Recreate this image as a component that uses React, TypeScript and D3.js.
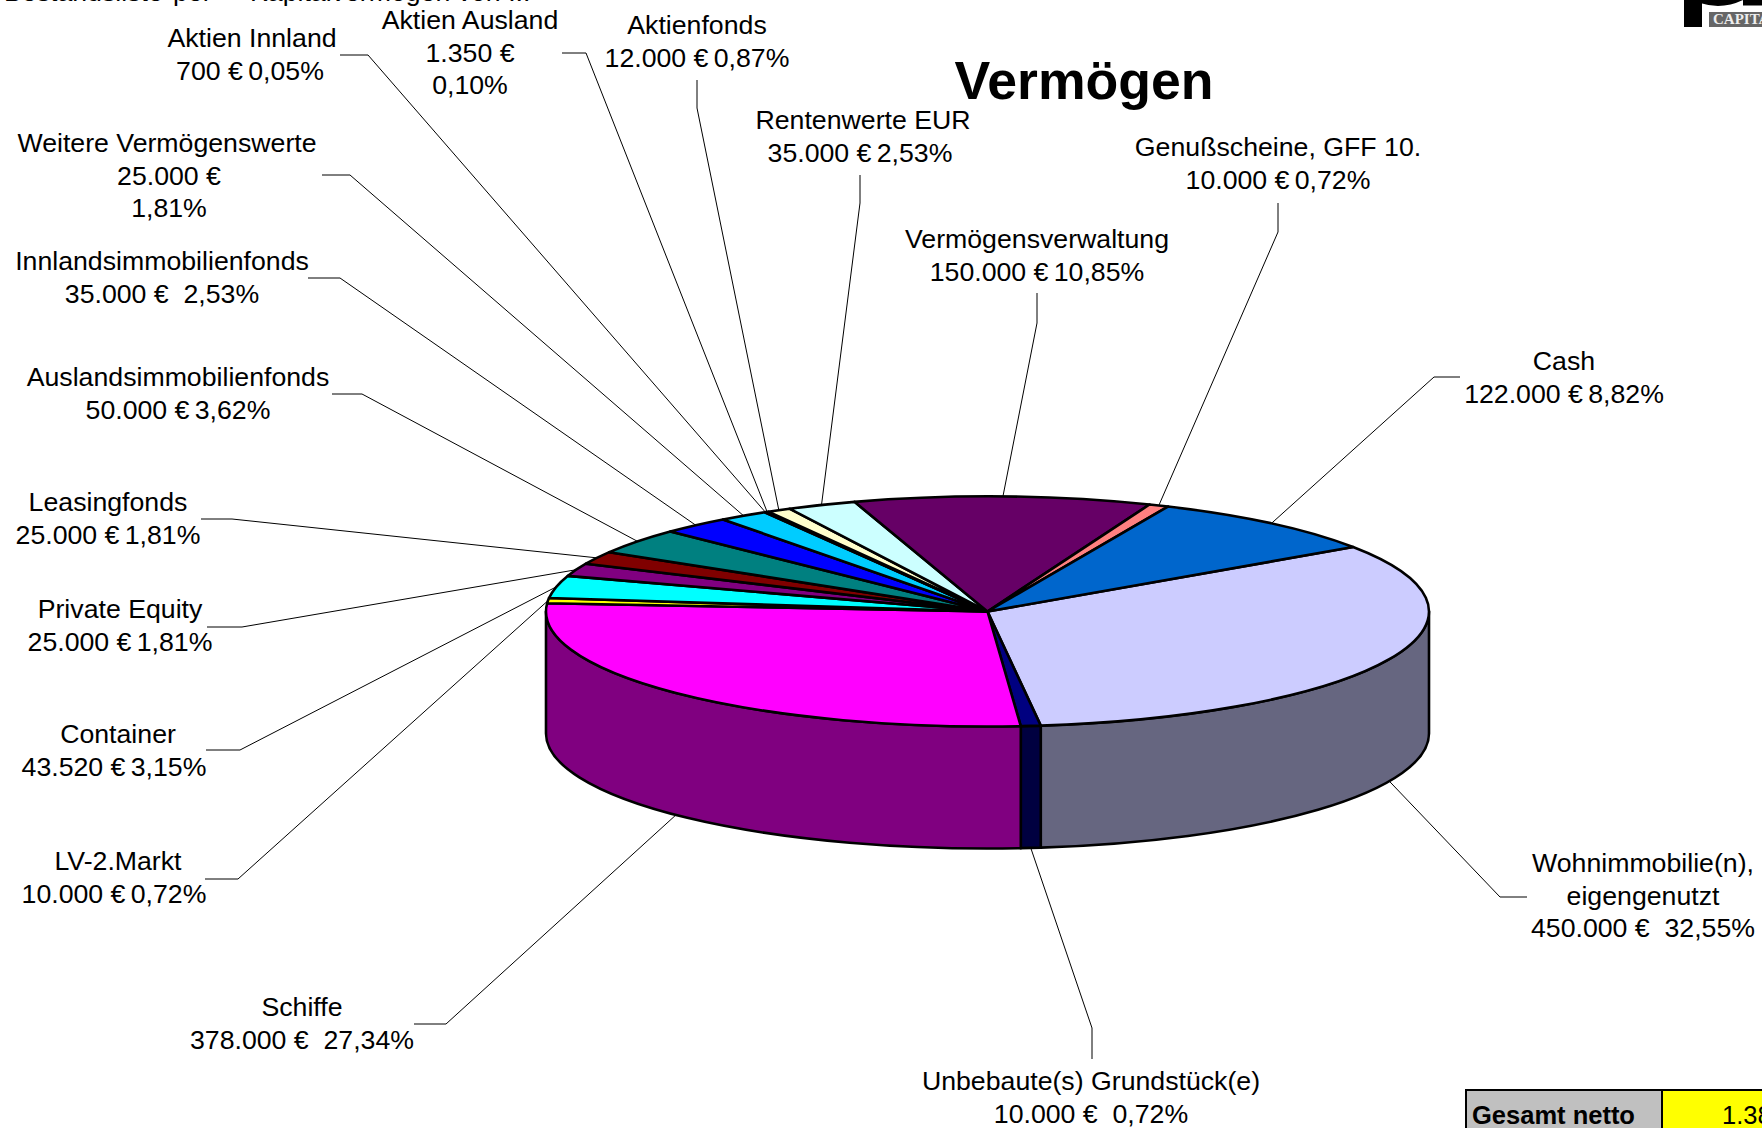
import * as d3 from 'd3';

// Slice values in pie order, clockwise from the Wohnimmobilie edge
const categories = [
  'Wohnimmobilie(n), eigengenutzt', 'Unbebaute(s) Grundstück(e)', 'Schiffe', 'LV-2.Markt', 'Container',
  'Private Equity', 'Leasingfonds', 'Auslandsimmobilienfonds', 'Innlandsimmobilienfonds', 'Weitere Vermögenswerte',
  'Aktien Innland', 'Aktien Ausland', 'Aktienfonds', 'Rentenwerte EUR', 'Vermögensverwaltung',
  'Genußscheine, GFF 10.', 'Cash',
];
const values = [450000, 10000, 378000, 10000, 43520, 25000, 25000, 50000, 35000, 25000, 700, 1350, 12000, 35000, 150000, 10000, 122000];
const colors = [
  '#ccccff', '#000080', '#ff00ff', '#ffff00', '#00ffff', '#800080', '#800000', '#008080', '#0000ff', '#00ccff',
  '#9999ff', '#993366', '#ffffcc', '#ccffff', '#660066', '#ff8080', '#0066cc',
];
const labelLines = [
  ['Wohnimmobilie(n),', 'eigengenutzt', '450.000 €  32,55%'],
  ['Unbebaute(s) Grundstück(e)', '10.000 €  0,72%'],
  ['Schiffe', '378.000 €  27,34%'],
  ['LV-2.Markt', '10.000 €\u20090,72%'],
  ['Container', '43.520 €\u20093,15%'],
  ['Private Equity', '25.000 €\u20091,81%'],
  ['Leasingfonds', '25.000 €\u20091,81%'],
  ['Auslandsimmobilienfonds', '50.000 €\u20093,62%'],
  ['Innlandsimmobilienfonds', '35.000 €  2,53%'],
  ['Weitere Vermögenswerte', '25.000 €', '1,81%'],
  ['Aktien Innland', '700 €\u20090,05%'],
  ['Aktien Ausland', '1.350 €', '0,10%'],
  ['Aktienfonds', '12.000 €\u20090,87%'],
  ['Rentenwerte EUR', '35.000 €\u20092,53%'],
  ['Vermögensverwaltung', '150.000 €\u200910,85%'],
  ['Genußscheine, GFF 10.', '10.000 €\u20090,72%'],
  ['Cash', '122.000 €\u20098,82%'],
];

// Label placement: centre x, first baseline, leader start, leader elbow, nudge of the value lines
const labelLayout: [number, number, [number, number], [number, number], number][] = [
  [1643, 872, [1527, 897], [1500, 897], 0],
  [1091, 1090, [1092, 1059], [1092, 1028], 0],
  [302, 1016, [414, 1024], [446, 1024], 0],
  [118, 870, [205, 879], [238, 879], -4],
  [118, 743, [206, 750], [240, 750], -4],
  [120, 618, [207, 627], [242, 627], 0],
  [108, 511, [201, 519], [232, 519], 0],
  [178, 386, [332, 394], [362, 394], 0],
  [162, 270, [308, 278], [340, 278], 0],
  [167, 152, [322, 175], [350, 175], 2],
  [252, 47, [340, 55], [368, 55], -2],
  [470, 29, [562, 53], [586, 53], 0],
  [697, 34, [697, 80], [697, 108], 0],
  [863, 129, [860, 175], [860, 203], -3],
  [1037, 248, [1037, 293], [1037, 323], 0],
  [1278, 156, [1278, 203], [1278, 232], 0],
  [1564, 370, [1460, 377], [1434, 377], 0],
];

const cx = 987.5;
const cy = 611.5;
const rx = 441.5;
const ry = 115;
const depth = 122;
const startAngle = (55.9 * Math.PI) / 180;

const project = (a: number, drop = 0): [number, number] => [cx + rx * Math.sin(a), cy - ry * Math.cos(a) + drop];

const pie = d3.pie<number>().sort(null).startAngle(startAngle).endAngle(startAngle + 2 * Math.PI);
const arcs = pie(values);

const topPath = (a0: number, a1: number) => {
  const [x0, y0] = project(a0);
  const [x1, y1] = project(a1);
  const large = a1 - a0 > Math.PI ? 1 : 0;
  return `M${cx},${cy}L${x0},${y0}A${rx},${ry} 0 ${large} 1 ${x1},${y1}Z`;
};

// Rim of a slice, only for the part facing the viewer
const sidePath = (a0: number, a1: number) => {
  const from = Math.max(a0, Math.PI / 2);
  const to = Math.min(a1, (3 * Math.PI) / 2);
  if (to <= from) return null;
  const [x0, y0] = project(from);
  const [x1, y1] = project(to);
  const [x2, y2] = project(to, depth);
  const [x3, y3] = project(from, depth);
  return `M${x0},${y0}A${rx},${ry} 0 0 1 ${x1},${y1}L${x2},${y2}A${rx},${ry} 0 0 0 ${x3},${y3}Z`;
};

const leaderEnd = (a0: number, a1: number): [number, number] => {
  const mid = (a0 + a1) / 2;
  return project(mid, Math.cos(mid) < 0 ? depth : 0);
};

const darken = (c: string) => {
  const { r, g, b } = d3.rgb(c);
  return d3.rgb(r / 2, g / 2, b / 2).formatHex();
};

const line = d3.line();
const fontFamily = '"Liberation Sans", Arial, sans-serif';
const labelSize = 26.7;
const pieStroke = 2.6;

export default function App() {
  return (
    <svg
      width={1762}
      height={1128}
      style={{ position: 'absolute', left: 0, top: 0, background: '#fff', fontFamily }}
    >
      {/* sheet title, nearly all of it is above the page edge */}
      <text y={0.5} fontSize={labelSize} fill="#000">
        <tspan x={4}>Bestandsliste</tspan>
        <tspan x={173}>per</tspan>
        <tspan x={250}>Kapitalvermögen von ...</tspan>
      </text>

      {/* logo fragment */}
      <rect x={1684} y={0} width={18} height={27} fill="#000" />
      <path d="M1700,0 V3 Q1722,10 1743,0 Z" fill="#000" />
      <rect x={1743} y={0} width={19} height={5.5} fill="#000" />
      <rect x={1709} y={12} width={53} height={15} fill="#666" />
      <text x={1713} y={24} fontSize={15} fontWeight={700} fontFamily="Liberation Serif" fill="#eee">CAPITAL</text>

      <text x={1084} y={99} textAnchor="middle" fontSize={53.6} fontWeight={700}>Vermögen</text>

      {arcs.map((d, i) => {
        const p = sidePath(d.startAngle, d.endAngle);
        return p && <path key={i} d={p} fill={darken(colors[i])} stroke="#000" strokeWidth={pieStroke} strokeLinejoin="round" />;
      })}
      {arcs.map((d, i) => (
        <path key={i} d={topPath(d.startAngle, d.endAngle)} fill={colors[i]} stroke="#000" strokeWidth={pieStroke} strokeLinejoin="round" />
      ))}

      {arcs.map((d, i) => {
        const [, , start, elbow] = labelLayout[i];
        return (
          <path key={i} d={line([start, elbow, leaderEnd(d.startAngle, d.endAngle)]) ?? ''} fill="none" stroke="#000" strokeWidth={1} />
        );
      })}

      {categories.map((name, i) => {
        const [x, y, , , nudge] = labelLayout[i];
        return (
          <text key={name} y={y} textAnchor="middle" fontSize={labelSize} fill="#000" style={{ whiteSpace: 'pre' }}>
            {labelLines[i].map((t, j) => (
              <tspan key={j} x={j === 0 ? x : x + nudge} dy={j === 0 ? 0 : 32.6}>{t}</tspan>
            ))}
          </text>
        );
      })}

      {/* total box, cut off by the page edge */}
      <rect x={1466} y={1090} width={196} height={44} fill="#c0c0c0" stroke="#000" strokeWidth={2} />
      <rect x={1662} y={1090} width={120} height={44} fill="#ffff00" stroke="#000" strokeWidth={2} />
      <text x={1472} y={1124} fontSize={25.5} fontWeight={700}>Gesamt netto</text>
      <text x={1722} y={1124} fontSize={25.5}>1.382.570 €</text>
    </svg>
  );
}
